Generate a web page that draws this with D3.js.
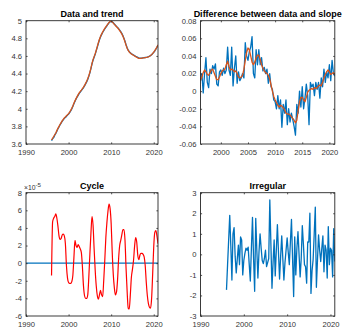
<!DOCTYPE html>
<html>
<head>
<meta charset="utf-8">
<script src="https://cdn.jsdelivr.net/npm/d3@7"></script>
<style>
  body { margin: 0; background: #fff; }
  svg { display: block; }
  text { font-family: "Liberation Sans", Arial, Helvetica, sans-serif; }
</style>
</head>
<body>
<svg id="fig" width="343" height="329"></svg>
<script>
// Quarterly series, first observation 1996 Q1
const startYear = 1996;

// Log level: observed data and estimated trend
const dataLevel = [
  3.638, 3.660, 3.672, 3.700, 3.720, 3.745, 3.772, 3.793, 3.818, 3.836,
  3.858, 3.873, 3.890, 3.902, 3.913, 3.928, 3.938, 3.957, 3.975, 3.998,
  4.025, 4.058, 4.083, 4.110, 4.133, 4.152, 4.175, 4.190, 4.206, 4.222,
  4.238, 4.260, 4.282, 4.305, 4.333, 4.368, 4.408, 4.455, 4.508, 4.552,
  4.584, 4.618, 4.660, 4.700, 4.744, 4.783, 4.815, 4.842, 4.866, 4.886,
  4.906, 4.925, 4.942, 4.960, 4.975, 4.987, 4.992, 4.987, 4.977, 4.962,
  4.950, 4.936, 4.924, 4.910, 4.893, 4.876, 4.857, 4.832, 4.802, 4.767,
  4.728, 4.692, 4.665, 4.648, 4.636, 4.625, 4.618, 4.611, 4.603, 4.596,
  4.590, 4.583, 4.576, 4.574, 4.574, 4.576, 4.578, 4.580, 4.582, 4.584,
  4.587, 4.591, 4.597, 4.604, 4.614, 4.626, 4.640, 4.656, 4.676, 4.698,
  4.720
];
const trendLevel = [
  3.645, 3.665, 3.685, 3.705, 3.725, 3.752, 3.778, 3.800, 3.822, 3.842,
  3.862, 3.880, 3.895, 3.908, 3.920, 3.932, 3.945, 3.962, 3.982, 4.005,
  4.032, 4.062, 4.090, 4.115, 4.138, 4.160, 4.180, 4.197, 4.212, 4.228,
  4.245, 4.265, 4.288, 4.312, 4.340, 4.375, 4.415, 4.462, 4.515, 4.558,
  4.592, 4.625, 4.665, 4.708, 4.750, 4.790, 4.822, 4.848, 4.872, 4.893,
  4.912, 4.930, 4.948, 4.965, 4.980, 4.992, 4.995, 4.985, 4.972, 4.958,
  4.945, 4.932, 4.920, 4.905, 4.888, 4.870, 4.850, 4.825, 4.795, 4.760,
  4.722, 4.688, 4.662, 4.645, 4.632, 4.622, 4.615, 4.608, 4.600, 4.592,
  4.585, 4.578, 4.573, 4.572, 4.573, 4.575, 4.577, 4.579, 4.581, 4.583,
  4.586, 4.590, 4.596, 4.604, 4.615, 4.628, 4.643, 4.660, 4.680, 4.702,
  4.725
];

// Quarter-on-quarter change of the data and slope of the trend (from 1996 Q2)
const dataDiff = [
  0.012, 0.020, -0.002, 0.020, 0.038, 0.010, 0.004, 0.025, 0.020, 0.029,
  0.025, 0.031, 0.008, 0.006, 0.022, 0.024, 0.018, 0.026, 0.020, 0.024,
  0.050, 0.024, 0.018, 0.050, 0.006, 0.026, 0.040, 0.009, 0.022, 0.012,
  0.015, 0.020, 0.015, 0.055, 0.040, 0.035, 0.045, 0.050, 0.062, 0.020,
  0.015, 0.047, 0.030, 0.047, 0.030, 0.038, 0.023, 0.027, 0.020, 0.025,
  0.009, 0.020, 0.005, 0.002, -0.010, -0.012, -0.020, -0.005, -0.020, -0.010,
  -0.041, -0.015, -0.025, -0.010, -0.038, -0.020, -0.035, -0.025, -0.032, -0.040,
  -0.050, -0.015, -0.025, 0.000, -0.018, 0.005, -0.020, -0.008, 0.008, -0.005,
  -0.038, 0.010, 0.005, 0.008, -0.005, 0.010, 0.002, 0.010, -0.008, 0.015,
  0.005, 0.025, 0.010, 0.022, 0.015, 0.030, 0.012, 0.035, 0.020, 0.017
];
const trendSlope = [
  0.012, 0.016, 0.021, 0.024, 0.022, 0.019, 0.018, 0.021, 0.024, 0.025,
  0.021, 0.017, 0.013, 0.013, 0.016, 0.020, 0.023, 0.024, 0.025, 0.030,
  0.034, 0.028, 0.024, 0.025, 0.024, 0.022, 0.023, 0.020, 0.016, 0.015,
  0.016, 0.018, 0.025, 0.035, 0.044, 0.049, 0.047, 0.040, 0.033, 0.030,
  0.033, 0.038, 0.041, 0.041, 0.036, 0.030, 0.026, 0.023, 0.021, 0.020,
  0.018, 0.014, 0.007, 0.000, -0.006, -0.010, -0.013, -0.016, -0.018, -0.016,
  -0.017, -0.019, -0.021, -0.025, -0.026, -0.026, -0.027, -0.029, -0.031, -0.033,
  -0.036, -0.033, -0.022, -0.012, -0.007, -0.007, -0.010, -0.012, -0.007, -0.001,
  0.001, 0.002, 0.003, 0.002, 0.004, 0.003, 0.004, 0.006, 0.007, 0.006,
  0.010, 0.015, 0.019, 0.022, 0.024, 0.022, 0.019, 0.020, 0.021, 0.019
];

// Cycle component, in units of 1e-5
const cycle = [
  -1.4, 4.7, 5.1, 5.3, 5.6, 5.1, 4.2, 3.1, 2.7, 2.8,
  3.2, 3.3, 3.1, 2.2, -0.3, -1.7, -2.2, -2.3, -2.3, -2.1,
  -1.4, 0.6, 2.6, 2.0, 1.8, 2.1, 1.9, 1.6, 1.2, -0.4,
  -2.6, -3.7, -4.0, -4.0, -3.6, -1.6, 1.0, 3.4, 5.3, 4.3,
  1.6, -0.8, -2.6, -3.7, -4.1, -3.6, -3.1, -3.6, -3.8, -2.0,
  0.3, 2.9, 4.6, 5.9, 6.7, 6.2, 4.5, 1.2, -1.3, -2.8,
  -3.6, -3.3, -1.9, 0.5, 2.0, 2.6, 3.2, 3.8, 3.8, 2.6,
  -0.6, -3.2, -5.1, -5.2, -3.6, -1.6, -0.7, 0.3, 1.9, 2.9,
  2.4, 0.9, 0.4, 0.9, 1.1, 1.1, 1.0, 0.7, -0.3, -2.2,
  -3.7, -4.6, -5.0, -5.1, -4.0, -1.2, 1.9, 3.5, 3.7, 3.1,
  2.2
];

// Standardised irregular component
const irregular = [
  -1.73, -0.5, 0.7, 1.9, 0.4, -1.25, 1.0, 1.3, -0.1, -0.9,
  -0.2, 0.45, -0.5, 0.85, 0.7, -1.0, -0.3, 0.05, 0.3, 0.2,
  0.35, -0.5, -1.3, 0.3, 1.8, -0.2, -1.8, 1.75, 0.2, -1.15,
  0.1, 1.0, 0.3, -0.3, -0.45, -0.2, 0.2, -0.6, -0.4, -0.2,
  2.65, 0.5, -1.65, -0.4, 0.7, -1.05, 0.2, 1.45, 0.1, -1.2,
  -0.1, 0.9, -0.2, -1.25, -0.4, 0.2, 0.8, 0.1, -0.5, 0.6,
  1.7, -0.2, -2.05, 0.85, -1.0, 0.3, 1.1, 0.0, -1.1, -0.2,
  1.4, 0.5, -0.5, -0.6, -1.4, 0.6, 0.6, 2.0, -1.9, -0.8,
  -0.25, 1.0, 2.3, -1.6, -0.3, 0.95, 0.2, -0.35, 0.3, 0.9,
  -0.85, 0.45, 0.2, -1.15, 1.35, -0.5, 0.3, 0.2, -1.1, 1.25,
  -0.35
];

// Axis ticks
const yearTicks = [1990, 2000, 2010, 2020];
const yearTicksFine = [2000, 2005, 2010, 2015, 2020];
const levelTicks = [3.6, 3.8, 4, 4.2, 4.4, 4.6, 4.8, 5];
const diffTicks = [-0.06, -0.04, -0.02, 0, 0.02, 0.04, 0.06, 0.08];
const cycleTicks = [-6, -4, -2, 0, 2, 4, 6, 8];
const irregularTicks = [-3, -2, -1, 0, 1, 2, 3];

const BLUE = "#0072BD", ORANGE = "#D95319", RED = "#FF0000", AXIS = "#262626";

// time stamps for a series of n quarters starting at the given quarter offset
const quarterTimes = (n, offset = 0) => d3.range(n).map(i => startYear + (i + offset) / 4);

const svg = d3.select("#fig");
let clipCount = 0;

function drawPanel(p) {
  const x = d3.scaleLinear().domain(p.xDomain).range([p.x0, p.x1]);
  const y = d3.scaleLinear().domain(p.yDomain).range([p.y1, p.y0]);
  const g = svg.append("g");
  const clipId = "clip" + (clipCount++);
  g.append("clipPath").attr("id", clipId).append("rect")
    .attr("x", p.x0).attr("y", p.y0).attr("width", p.x1 - p.x0).attr("height", p.y1 - p.y0);

  const plot = g.append("g").attr("clip-path", `url(#${clipId})`);
  p.series.forEach(s => {
    const line = d3.line()
      .x((d, i) => x(s.t[i]))
      .y(d => y(d * (s.scale || 1)))
      .curve(s.curve || d3.curveLinear);
    plot.append("path").datum(s.values)
      .attr("fill", "none").attr("stroke", s.color)
      .attr("stroke-width", s.width).attr("stroke-linejoin", "round")
      .attr("d", line);
  });

  const tick = 1.6, fontSize = "7.6px";
  const place = (gen, tx, ty) => {
    const a = g.append("g").attr("transform", `translate(${tx},${ty})`).call(gen);
    a.select(".domain").remove();
    a.selectAll(".tick line").attr("stroke", AXIS).attr("stroke-width", 0.8);
    a.selectAll(".tick text").attr("fill", "#333").style("font-size", fontSize);
    return a;
  };
  const blank = () => "";
  place(d3.axisBottom(x).tickValues(p.xTicks).tickFormat(d3.format("d")).tickSize(-tick).tickPadding(6), 0, p.y1);
  place(d3.axisTop(x).tickValues(p.xTicks).tickFormat(blank).tickSize(-tick), 0, p.y0);
  place(d3.axisLeft(y).tickValues(p.yTicks).tickFormat(p.yFormat).tickSize(-tick).tickPadding(4), p.x0, 0);
  place(d3.axisRight(y).tickValues(p.yTicks).tickFormat(blank).tickSize(-tick), p.x1, 0);

  g.append("rect")
    .attr("x", p.x0).attr("y", p.y0).attr("width", p.x1 - p.x0).attr("height", p.y1 - p.y0)
    .attr("fill", "none").attr("stroke", AXIS).attr("stroke-width", 0.9);

  g.append("text")
    .attr("x", (p.x0 + p.x1) / 2).attr("y", p.y0 - 4.2)
    .attr("text-anchor", "middle")
    .style("font-size", "9px").style("font-weight", "bold").attr("fill", "#000")
    .text(p.title);
  return g;
}

const fmtPlain = d => String(d);

// Data and trend
drawPanel({
  x0: 26, x1: 158, y0: 20.7, y1: 144,
  xDomain: [1990, 2021], yDomain: [3.6, 5],
  xTicks: yearTicks, yTicks: levelTicks, yFormat: fmtPlain,
  title: "Data and trend",
  series: [
    { t: quarterTimes(dataLevel.length), values: dataLevel, color: BLUE, width: 1.3 },
    { t: quarterTimes(trendLevel.length), values: trendLevel, color: ORANGE, width: 1.3 }
  ]
});

// Difference between data and slope
drawPanel({
  x0: 200.5, x1: 334.8, y0: 20.7, y1: 144,
  xDomain: [1996.25, 2021], yDomain: [-0.06, 0.08],
  xTicks: yearTicksFine, yTicks: diffTicks, yFormat: fmtPlain,
  title: "Difference between data and slope",
  series: [
    { t: quarterTimes(dataDiff.length, 1), values: dataDiff, color: BLUE, width: 1.3 },
    { t: quarterTimes(trendSlope.length, 1), values: trendSlope, color: ORANGE, width: 1.3 }
  ]
});

// Cycle
const cyclePanel = drawPanel({
  x0: 26, x1: 158, y0: 192.7, y1: 316,
  xDomain: [1990, 2021], yDomain: [-6, 8],
  xTicks: yearTicks, yTicks: cycleTicks, yFormat: fmtPlain,
  title: "Cycle",
  series: [
    { t: [1990, 2021], values: [0, 0], color: BLUE, width: 1.2 },
    { t: quarterTimes(cycle.length), values: cycle, color: RED, width: 1.2, curve: d3.curveMonotoneX }
  ]
});
// axis exponent for the cycle values
const expo = cyclePanel.append("text")
  .attr("x", 24).attr("y", 189.5)
  .style("font-size", "6.8px").attr("fill", "#333");
expo.append("tspan").text("\u00d710");
expo.append("tspan").attr("dy", -2.6).style("font-size", "6.2px").text("-5");

// Irregular
drawPanel({
  x0: 200.5, x1: 334.8, y0: 192.7, y1: 316,
  xDomain: [1990, 2021], yDomain: [-3, 3],
  xTicks: yearTicks, yTicks: irregularTicks, yFormat: fmtPlain,
  title: "Irregular",
  series: [
    { t: quarterTimes(irregular.length), values: irregular, color: BLUE, width: 1.3 }
  ]
});
</script>
</body>
</html>
